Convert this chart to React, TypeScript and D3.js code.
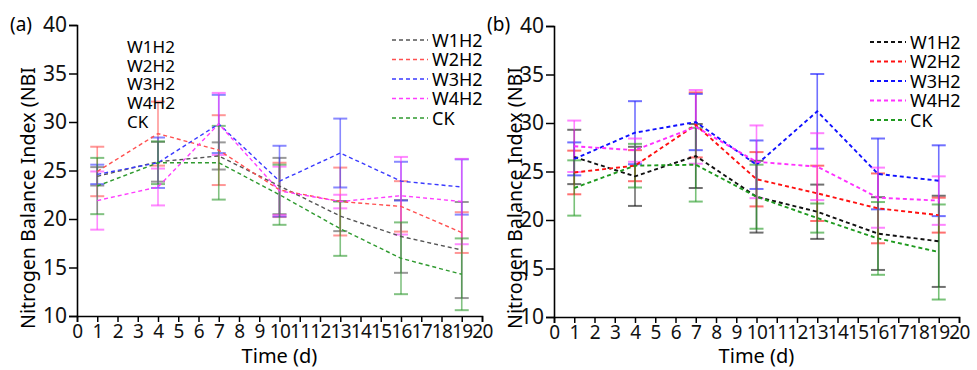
import React, { useEffect, useRef } from "react";
import * as d3 from "d3";

// sampling days and series
const days = [1, 4, 7, 10, 13, 16, 19];
const seriesNames = ["W1H2", "W2H2", "W3H2", "W4H2", "CK"];
const xTicks = d3.range(0, 21);
const yTicks = [10, 15, 20, 25, 30, 35, 40];

// panel (a) means and SD
const aW1H2 = [24.4, 25.9, 26.5, 23.4, 20.3, 18.2, 16.8];
const aW1H2Sd = [0.95, 2.05, 1.4, 2.9, 1.55, 3.75, 4.95];
const aW2H2 = [24.9, 28.8, 27.1, 23.0, 21.8, 21.3, 18.6];
const aW2H2Sd = [2.55, 3.3, 3.6, 2.8, 3.5, 2.6, 2.1];
const aW3H2 = [24.6, 25.8, 29.8, 23.9, 26.8, 23.9, 23.3];
const aW3H2Sd = [1.0, 2.6, 3.0, 3.65, 3.55, 2.0, 2.85];
const aW4H2 = [21.9, 23.3, 29.8, 22.9, 21.8, 22.4, 21.8];
const aW4H2Sd = [3.0, 1.9, 3.2, 2.5, 0.7, 4.0, 4.4];
const aCK = [23.4, 25.8, 25.8, 22.5, 19.0, 15.95, 14.3];
const aCKSd = [2.9, 2.2, 3.8, 3.1, 2.8, 3.7, 3.7];

// panel (b) means and SD
const bW1H2 = [26.5, 24.5, 26.6, 22.4, 20.85, 18.6, 17.8];
const bW1H2Sd = [2.8, 3.05, 3.3, 3.7, 2.8, 3.75, 4.7];
const bW2H2 = [24.9, 25.6, 29.8, 24.2, 22.75, 21.2, 20.5];
const bW2H2Sd = [2.25, 1.6, 3.35, 2.8, 2.85, 3.6, 1.8];
const bW3H2 = [26.3, 29.0, 30.1, 25.7, 31.2, 24.75, 24.05];
const bW3H2Sd = [1.7, 3.25, 2.9, 2.5, 3.85, 3.65, 3.65];
const bW4H2 = [27.6, 27.2, 29.6, 26.0, 25.5, 22.3, 22.0];
const bW4H2Sd = [2.65, 1.2, 3.8, 3.75, 3.45, 3.1, 2.5];
const bCK = [23.3, 25.6, 25.7, 22.4, 20.2, 18.1, 16.7];
const bCKSd = [2.85, 2.25, 3.8, 3.3, 1.5, 3.75, 4.9];

const colorsA = ["#555555", "#ff5050", "#3a3aff", "#ff3cff", "#2f9a2f"];
const colorsB = ["#111111", "#ff1010", "#1010ff", "#ff30ff", "#1f9a1f"];

const FONT = "'Noto Sans', 'Open Sans', sans-serif";

type Panel = {
  label: string;
  left: number;
  right: number;
  top: number;
  bottom: number;
  means: number[][];
  sds: number[][];
  colors: string[];
  lineWidth: number;
  legendX: number;
  legendY: number;
  yLabelX: number;
};

const panels: Panel[] = [
  {
    label: "(a)",
    left: 77,
    right: 482,
    top: 25,
    bottom: 316,
    means: [aW1H2, aW2H2, aW3H2, aW4H2, aCK],
    sds: [aW1H2Sd, aW2H2Sd, aW3H2Sd, aW4H2Sd, aCKSd],
    colors: colorsA,
    lineWidth: 1.4,
    legendX: 392,
    legendY: 40,
    yLabelX: 35,
  },
  {
    label: "(b)",
    left: 554,
    right: 959,
    top: 26,
    bottom: 317,
    means: [bW1H2, bW2H2, bW3H2, bW4H2, bCK],
    sds: [bW1H2Sd, bW2H2Sd, bW3H2Sd, bW4H2Sd, bCKSd],
    colors: colorsB,
    lineWidth: 1.9,
    legendX: 870,
    legendY: 42,
    yLabelX: 522,
  },
];

export default function App() {
  const svgRef = useRef<SVGSVGElement>(null);

  useEffect(() => {
    const svg = d3.select(svgRef.current);
    svg.selectAll("*").remove();

    panels.forEach((p) => {
      const x = d3.scaleLinear().domain([0, 20]).range([p.left, p.right]);
      const y = d3.scaleLinear().domain([10, 40]).range([p.bottom, p.top]);
      const g = svg.append("g");

      // error bars
      p.means.forEach((m, si) => {
        const eb = g.append("g").attr("stroke", p.colors[si]).attr("stroke-opacity", 0.6).attr("stroke-width", 1.6);
        m.forEach((v, i) => {
          const cx = x(days[i]);
          const lo = y(v - p.sds[si][i]);
          const hi = y(v + p.sds[si][i]);
          eb.append("line").attr("x1", cx).attr("x2", cx).attr("y1", lo).attr("y2", hi);
          eb.append("line").attr("x1", cx - 7).attr("x2", cx + 7).attr("y1", lo).attr("y2", lo).attr("stroke-width", 2);
          eb.append("line").attr("x1", cx - 7).attr("x2", cx + 7).attr("y1", hi).attr("y2", hi).attr("stroke-width", 2);
        });
      });

      // dashed mean lines
      const line = d3
        .line<number>()
        .x((_, i) => x(days[i]))
        .y((v) => y(v));
      p.means.forEach((m, si) => {
        g.append("path")
          .attr("d", line(m))
          .attr("fill", "none")
          .attr("stroke", p.colors[si])
          .attr("stroke-width", p.lineWidth)
          .attr("stroke-dasharray", "4,3");
      });

      // axes
      const yAxis = g
        .append("g")
        .attr("transform", `translate(${p.left},0)`)
        .call(d3.axisLeft(y).tickValues(yTicks).tickSize(8).tickPadding(2));
      yAxis.selectAll("text").attr("font-size", 21).attr("font-family", FONT).attr("fill", "#111");
      const xAxis = g
        .append("g")
        .attr("transform", `translate(0,${p.bottom})`)
        .call(d3.axisBottom(x).tickValues(xTicks).tickFormat(d3.format("d")).tickSize(6).tickPadding(3));
      xAxis.selectAll("text").attr("font-size", 19).attr("font-family", FONT).attr("letter-spacing", -0.6).attr("fill", "#111");
      [yAxis, xAxis].forEach((ax) => {
        ax.select(".domain").attr("stroke-width", 1.6);
        ax.selectAll(".tick line").attr("stroke-width", 1.5);
      });

      // axis titles
      g.append("text")
        .attr("transform", `translate(${p.yLabelX},198) rotate(-90)`)
        .attr("text-anchor", "middle")
        .attr("font-family", FONT)
        .attr("font-size", 20)
        .attr("textLength", 262)
        .attr("lengthAdjust", "spacingAndGlyphs")
        .text("Nitrogen Balance Index (NBI");
      g.append("text")
        .attr("x", x(10))
        .attr("y", 363)
        .attr("text-anchor", "middle")
        .attr("font-family", FONT)
        .attr("font-size", 20)
        .text("Time (d)");

      // panel tag
      g.append("text")
        .attr("x", p.left - 67)
        .attr("y", 31)
        .attr("font-family", FONT)
        .attr("font-size", 19)
        .text(p.label);

      // legend
      seriesNames.forEach((name, si) => {
        const ly = p.legendY + si * 19.5;
        g.append("line")
          .attr("x1", p.legendX)
          .attr("x2", p.legendX + 36)
          .attr("y1", ly)
          .attr("y2", ly)
          .attr("stroke", p.colors[si])
          .attr("stroke-width", p.lineWidth)
          .attr("stroke-dasharray", "4,3");
        g.append("text")
          .attr("x", p.legendX + 40)
          .attr("y", ly + 6.5)
          .attr("font-family", FONT)
          .attr("font-size", 18)
          .text(name);
      });
    });

    // leftover legend text in panel (a)
    seriesNames.forEach((name, si) => {
      svg
        .append("text")
        .attr("x", 127)
        .attr("y", 53 + si * 18.7)
        .attr("font-family", FONT)
        .attr("font-size", 17)
        .text(name);
    });
  }, []);

  return (
    <svg
      ref={svgRef}
      width={977}
      height={370}
      style={{ position: "absolute", left: 0, top: 0, background: "#fff" }}
    />
  );
}
